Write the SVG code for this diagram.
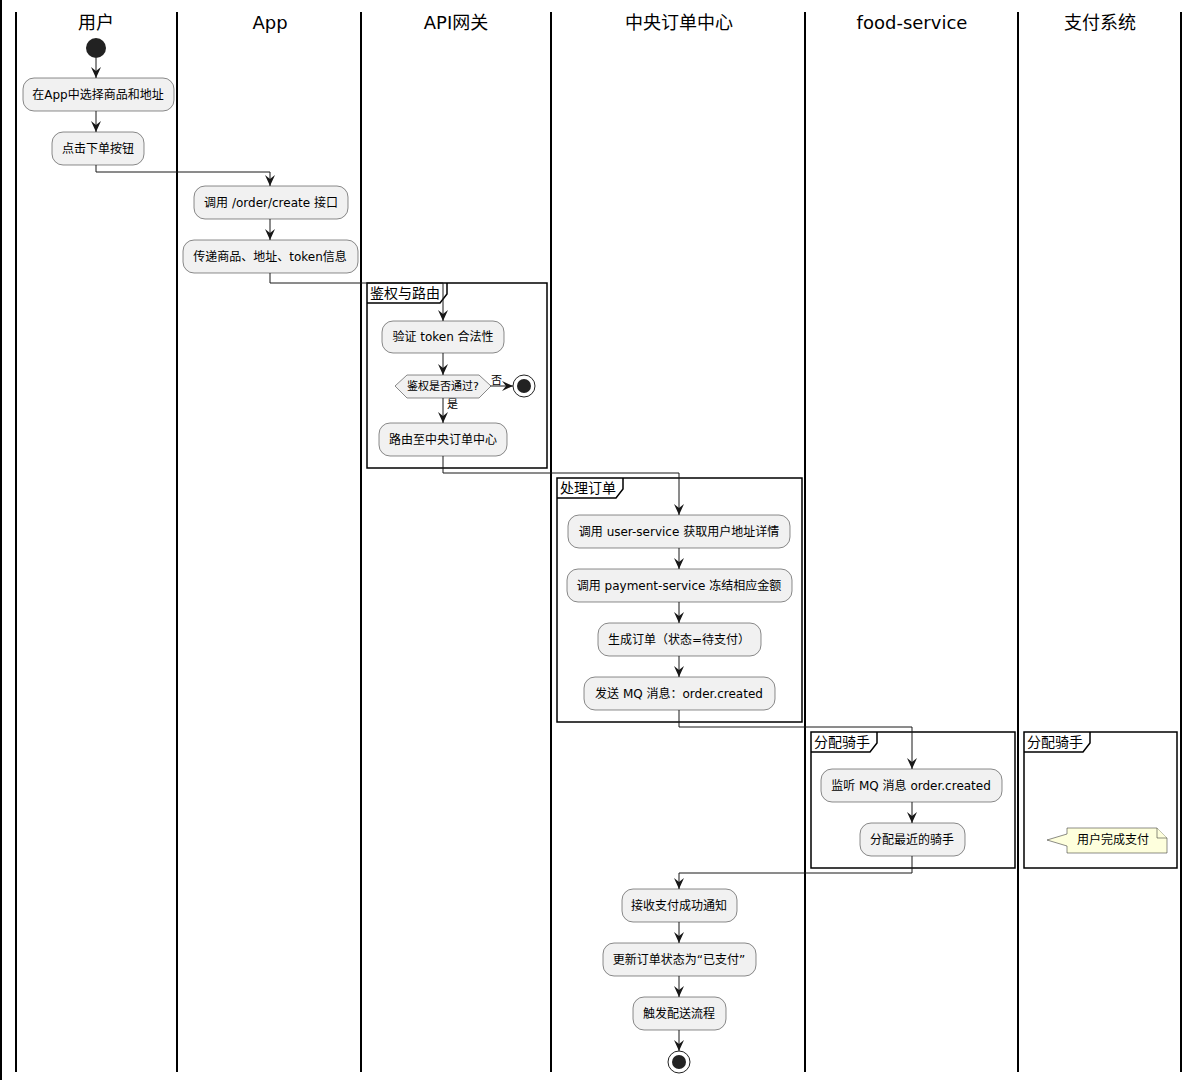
<svg xmlns="http://www.w3.org/2000/svg" width="1199" height="1080" viewBox="0 0 1199 1080">
<defs>
<style>
.lane{stroke:#000;stroke-width:2}
.hdr{font-family:"DejaVu Sans","Noto Sans CJK SC",sans-serif;font-size:18px;fill:#000;text-anchor:middle}
.box{fill:#F1F1F1;stroke:#181818;stroke-width:0.5}
.t{font-family:"DejaVu Sans","Noto Sans CJK SC",sans-serif;font-size:12px;fill:#000;text-anchor:middle}
.lbl{font-family:"DejaVu Sans","Noto Sans CJK SC",sans-serif;font-size:11px;fill:#000}
.grp{fill:none;stroke:#000;stroke-width:1.5}
.gt{font-family:"DejaVu Sans","Noto Sans CJK SC",sans-serif;font-size:14px;fill:#000}
.c{fill:none;stroke:#181818;stroke-width:1}
.note{fill:#FEFFDD;stroke:#181818;stroke-width:0.5}
</style>
<marker id="ah" markerUnits="userSpaceOnUse" markerWidth="14" markerHeight="14" refX="11" refY="6" orient="auto">
<path d="M0,1 L11,6 L0,11 L4,6 Z" fill="#181818"/>
</marker>
</defs>
<rect width="1199" height="1080" fill="#fff"/>
<g id="lanes">
<line x1="1" y1="0" x2="1" y2="1080" class="lane"/>
<line x1="16" y1="12" x2="16" y2="1072" class="lane"/>
<line x1="177" y1="12" x2="177" y2="1072" class="lane"/>
<line x1="361" y1="12" x2="361" y2="1072" class="lane"/>
<line x1="551" y1="12" x2="551" y2="1072" class="lane"/>
<line x1="805" y1="12" x2="805" y2="1072" class="lane"/>
<line x1="1018" y1="12" x2="1018" y2="1072" class="lane"/>
<line x1="1181" y1="12" x2="1181" y2="1072" class="lane"/>
<text x="96" y="29" class="hdr">用户</text>
<text x="270" y="29" class="hdr">App</text>
<text x="456" y="29" class="hdr">API网关</text>
<text x="679" y="29" class="hdr">中央订单中心</text>
<text x="912" y="29" class="hdr">food-service</text>
<text x="1100" y="29" class="hdr">支付系统</text>
</g>
<g id="groups">
<g id="g-auth"><rect x="367" y="283" width="180" height="185" class="grp"/><path d="M367,303 L440,303 L447,294 L447,283" class="grp"/><text x="370" y="298" class="gt">鉴权与路由</text></g>
<g id="g-order"><rect x="557" y="478" width="245" height="244" class="grp"/><path d="M557,498 L616,498 L623,489 L623,478" class="grp"/><text x="560" y="493" class="gt">处理订单</text></g>
<g id="g-rider1"><rect x="811" y="732" width="204" height="136" class="grp"/><path d="M811,752 L870,752 L877,743 L877,732" class="grp"/><text x="814" y="747" class="gt">分配骑手</text></g>
<g id="g-rider2"><rect x="1024" y="732" width="153" height="136" class="grp"/><path d="M1024,752 L1083,752 L1090,743 L1090,732" class="grp"/><text x="1027" y="747" class="gt">分配骑手</text></g>
</g>
<g id="connectors">
<line x1="96" y1="58" x2="96" y2="78" class="c" marker-end="url(#ah)"/>
<line x1="96" y1="111" x2="96" y2="132" class="c" marker-end="url(#ah)"/>
<polyline points="96,165 96,172 270,172 270,186" class="c" marker-end="url(#ah)"/>
<line x1="270" y1="219" x2="270" y2="240" class="c" marker-end="url(#ah)"/>
<polyline points="270,273 270,283 443,283 443,321" class="c" marker-end="url(#ah)"/>
<line x1="443" y1="353" x2="443" y2="375" class="c" marker-end="url(#ah)"/>
<line x1="490" y1="386" x2="513" y2="386" class="c" marker-end="url(#ah)"/>
<line x1="443" y1="398" x2="443" y2="423" class="c" marker-end="url(#ah)"/>
<polyline points="443,456 443,473 679,473 679,515" class="c" marker-end="url(#ah)"/>
<line x1="679" y1="548" x2="679" y2="569" class="c" marker-end="url(#ah)"/>
<line x1="679" y1="602" x2="679" y2="623" class="c" marker-end="url(#ah)"/>
<line x1="679" y1="656" x2="679" y2="677" class="c" marker-end="url(#ah)"/>
<polyline points="679,710 679,727 912,727 912,769" class="c" marker-end="url(#ah)"/>
<line x1="912" y1="802" x2="912" y2="823" class="c" marker-end="url(#ah)"/>
<polyline points="912,856 912,873 679,873 679,889" class="c" marker-end="url(#ah)"/>
<line x1="679" y1="922" x2="679" y2="943" class="c" marker-end="url(#ah)"/>
<line x1="679" y1="976" x2="679" y2="997" class="c" marker-end="url(#ah)"/>
<line x1="679" y1="1030" x2="679" y2="1051" class="c" marker-end="url(#ah)"/>
<text x="491" y="384" class="lbl">否</text>
<text x="447" y="408" class="lbl">是</text>
</g>
<g id="start"><circle cx="96" cy="48" r="10" fill="#222"/></g>
<g id="n1"><rect x="23" y="78" width="151" height="33" rx="11" class="box"/><text x="98" y="99" class="t">在App中选择商品和地址</text></g>
<g id="n2"><rect x="52" y="132" width="92" height="33" rx="11" class="box"/><text x="98" y="153" class="t">点击下单按钮</text></g>
<g id="n3"><rect x="194" y="186" width="154" height="33" rx="11" class="box"/><text x="271" y="207" class="t">调用 /order/create 接口</text></g>
<g id="n4"><rect x="183" y="240" width="175" height="33" rx="11" class="box"/><text x="270" y="261" class="t">传递商品、地址、token信息</text></g>
<g id="n5"><rect x="382" y="321" width="122" height="32" rx="11" class="box"/><text x="443" y="341" class="t">验证 token 合法性</text></g>
<g id="d1"><polygon points="395,386 407,375 479,375 491,386 479,398 407,398" class="box"/><text x="443" y="390" class="t" style="font-size:11px">鉴权是否通过?</text></g>
<g id="end1"><circle cx="524" cy="386" r="11" fill="#fff" stroke="#222" stroke-width="1"/><circle cx="524" cy="386" r="7" fill="#222"/></g>
<g id="n6"><rect x="379" y="423" width="128" height="33" rx="11" class="box"/><text x="443" y="444" class="t">路由至中央订单中心</text></g>
<g id="n7"><rect x="568" y="515" width="222" height="33" rx="11" class="box"/><text x="679" y="536" class="t">调用 user-service 获取用户地址详情</text></g>
<g id="n8"><rect x="567" y="569" width="225" height="33" rx="11" class="box"/><text x="679" y="590" class="t">调用 payment-service 冻结相应金额</text></g>
<g id="n9"><rect x="598" y="623" width="163" height="33" rx="11" class="box"/><text x="679" y="644" class="t">生成订单（状态=待支付）</text></g>
<g id="n10"><rect x="584" y="677" width="191" height="33" rx="11" class="box"/><text x="679" y="698" class="t">发送 MQ 消息：order.created</text></g>
<g id="n11"><rect x="821" y="769" width="181" height="33" rx="11" class="box"/><text x="911" y="790" class="t">监听 MQ 消息 order.created</text></g>
<g id="n12"><rect x="860" y="823" width="105" height="33" rx="11" class="box"/><text x="912" y="844" class="t">分配最近的骑手</text></g>
<g id="note1"><path d="M1067,828 L1157,828 L1167,838 L1167,853 L1067,853 L1067,846 L1047,840 L1067,834 Z" class="note"/><path d="M1157,828 L1157,838 L1167,838" class="note"/><text x="1113" y="844" class="t">用户完成支付</text></g>
<g id="n13"><rect x="622" y="889" width="115" height="33" rx="11" class="box"/><text x="679" y="910" class="t">接收支付成功通知</text></g>
<g id="n14"><rect x="603" y="943" width="153" height="33" rx="11" class="box"/><text x="679" y="964" class="t">更新订单状态为“已支付”</text></g>
<g id="n15"><rect x="633" y="997" width="93" height="33" rx="11" class="box"/><text x="679" y="1018" class="t">触发配送流程</text></g>
<g id="end2"><circle cx="679" cy="1062" r="11" fill="#fff" stroke="#222" stroke-width="1"/><circle cx="679" cy="1062" r="7" fill="#222"/></g>
</svg>
